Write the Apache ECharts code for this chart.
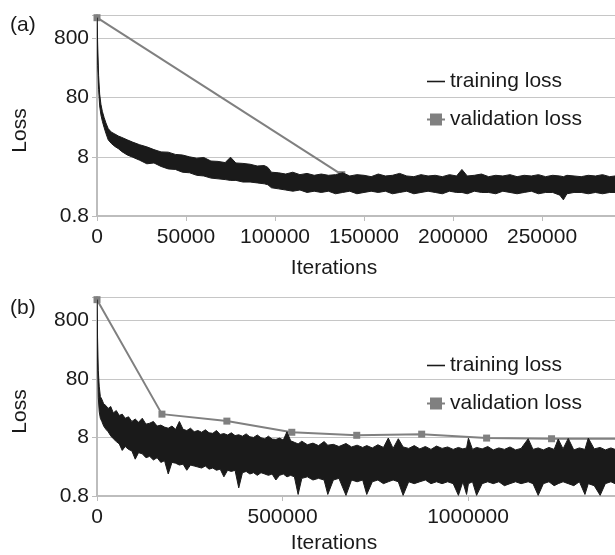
<!DOCTYPE html>
<html>
<head>
<meta charset="utf-8">
<script src="https://cdn.jsdelivr.net/npm/echarts@6/dist/echarts.min.js"></script>
<style>
  html, body { margin: 0; padding: 0; background: #fff; }
  #chart { width: 615px; height: 555px; }
</style>
</head>
<body>
<div id="chart"></div>
<script>
// log axis: 0.8 .. 2000, one tick per decade
const lossFloor = 0.8
const lossCeil = 2000
const yTickLabels = ['0.8', '8', '80', '800']
const panelLabels = ['(a)', '(b)']
const seriesNames = ['training loss', 'validation loss']

// (a) training loss envelope: [iteration, upper, lower]
const trainA = [
  [0, 1800, 1500], [400, 600, 280], [900, 190, 110], [1500, 92, 58], [2200, 62, 41],
  [3000, 47, 32], [4000, 37, 25], [5000, 30, 20], [6300, 24, 15.5], [8000, 21, 13.5],
  [10000, 19.5, 12], [12000, 18, 11], [14000, 17, 9.8], [17000, 15.5, 8.6], [20000, 14.2, 7.9],
  [24000, 12.8, 7.0], [28000, 11.8, 6.1], [32000, 10.6, 6.3], [36000, 9.7, 5.5], [40000, 9.6, 5.0],
  [44000, 8.8, 4.9], [48000, 8.6, 4.4], [52000, 8.0, 4.3], [56000, 7.6, 3.9], [60000, 7.8, 3.8],
  [64000, 6.8, 3.5], [68000, 6.7, 3.4], [72000, 6.4, 3.3], [75000, 7.9, 3.2], [78000, 6.3, 3.2],
  [82000, 6.2, 3.0], [86000, 6.0, 3.0], [90000, 5.6, 2.9], [94000, 5.7, 2.8], [96000, 5.3, 2.7],
  [98000, 4.4, 2.4], [102000, 4.3, 2.3], [106000, 4.1, 2.2], [110000, 4.4, 2.1], [114000, 4.0, 2.2],
  [118000, 4.2, 2.0], [122000, 3.9, 2.1], [126000, 4.1, 2.0], [130000, 3.9, 2.1], [134000, 4.0, 1.9],
  [138000, 4.3, 2.0], [142000, 3.8, 2.1], [146000, 4.0, 1.9], [150000, 3.9, 2.0], [154000, 3.7, 2.1],
  [158000, 4.1, 2.0], [162000, 3.8, 2.1], [166000, 3.9, 1.9], [170000, 4.2, 2.0], [174000, 3.8, 2.1],
  [178000, 3.7, 1.9], [182000, 4.0, 2.0], [186000, 3.8, 2.1], [190000, 3.9, 2.0], [194000, 3.7, 1.9],
  [198000, 4.0, 2.1], [202000, 3.8, 2.0], [205000, 4.9, 2.0], [208000, 3.8, 1.9], [212000, 3.9, 2.1],
  [216000, 4.1, 2.0], [220000, 3.7, 2.0], [224000, 3.9, 1.9], [228000, 3.8, 2.1], [232000, 4.0, 2.0],
  [236000, 3.7, 1.9], [240000, 3.9, 2.0], [244000, 3.8, 2.1], [248000, 4.0, 1.9], [252000, 3.7, 2.0],
  [256000, 3.9, 2.0], [260000, 3.8, 1.8], [262000, 3.7, 1.5], [264000, 3.9, 1.9], [268000, 3.8, 2.0],
  [272000, 3.7, 2.0], [276000, 3.9, 1.9], [280000, 3.8, 2.0], [284000, 4.0, 1.9], [288000, 3.7, 2.0],
  [291000, 3.8, 2.0]
]
const validItersA = [0, 137500]
const validLossA = [1800, 4.0]

// (b) training loss envelope: [iteration, upper, lower]
const trainB = [
  [0, 1800, 1500], [1500, 400, 150], [3500, 110, 38], [6000, 60, 22], [9000, 40, 17],
  [13000, 36, 15], [18000, 30, 12.5], [24000, 28, 11], [30000, 25, 10], [37000, 27, 8.5],
  [44000, 21, 7.6], [52000, 23, 6.8], [60000, 19, 6.2], [68000, 20, 4.8], [76000, 17, 5.6],
  [85000, 18, 5.0], [94000, 15, 4.7], [103000, 16.5, 3.4], [112000, 14.5, 4.4], [122000, 17, 4.2],
  [132000, 13.5, 3.6], [142000, 14, 3.8], [152000, 15, 3.3], [162000, 12.5, 3.6], [172000, 13, 3.0],
  [182000, 12, 3.2], [192000, 11.5, 1.9], [202000, 12.5, 3.0], [212000, 11, 2.9], [222000, 15, 2.7],
  [232000, 11, 2.8], [242000, 10.5, 2.2], [252000, 11.5, 2.7], [262000, 10, 2.6], [272000, 10.5, 2.5],
  [282000, 9.8, 2.4], [292000, 10.8, 2.6], [302000, 9.6, 2.3], [312000, 9.4, 2.4], [322000, 10.5, 2.2],
  [332000, 9.0, 2.3], [342000, 9.3, 1.7], [352000, 8.8, 2.2], [362000, 9.6, 2.1], [372000, 8.6, 2.2],
  [382000, 8.9, 1.1], [392000, 8.4, 2.0], [402000, 9.2, 2.1], [412000, 8.2, 1.9], [422000, 8.0, 2.0],
  [432000, 8.8, 1.8], [442000, 7.9, 2.0], [452000, 7.6, 1.9], [462000, 8.4, 1.8], [472000, 7.5, 1.9],
  [482000, 7.4, 1.5], [492000, 7.8, 1.8], [502000, 7.2, 1.9], [512000, 10, 1.7], [522000, 7.0, 1.8],
  [532000, 6.6, 1.7], [542000, 6.2, 0.85], [552000, 6.9, 1.6], [567000, 6.0, 1.7], [582000, 6.4, 1.5],
  [597000, 5.8, 1.6], [612000, 6.8, 1.5], [622000, 5.9, 0.85], [637000, 6.1, 1.5], [652000, 5.6, 1.6],
  [671000, 6.3, 0.82], [686000, 5.5, 1.5], [701000, 5.9, 1.4], [716000, 5.4, 1.5], [727000, 5.8, 0.85],
  [742000, 5.3, 1.4], [757000, 6.0, 1.5], [772000, 5.4, 1.3], [785000, 7.8, 1.4], [798000, 5.2, 1.5],
  [812000, 7.6, 1.4], [825000, 5.5, 0.82], [840000, 5.2, 1.4], [855000, 5.8, 1.3], [870000, 5.1, 1.4],
  [885000, 5.6, 1.5], [900000, 5.0, 1.3], [915000, 5.7, 1.4], [930000, 5.2, 1.3], [945000, 5.5, 1.4],
  [960000, 5.0, 1.3], [974000, 5.4, 0.82], [986000, 5.1, 1.4], [996000, 5.3, 0.85], [1001000, 7.8, 1.3],
  [1012000, 5.0, 1.4], [1023000, 5.4, 0.82], [1038000, 5.1, 1.3], [1053000, 5.6, 1.4], [1068000, 4.9, 1.3],
  [1083000, 5.3, 1.4], [1098000, 5.0, 1.2], [1113000, 5.5, 1.3], [1128000, 4.9, 1.4], [1143000, 5.2, 1.3],
  [1162000, 7.6, 1.4], [1175000, 5.0, 1.3], [1189000, 5.3, 0.82], [1203000, 4.9, 1.3], [1218000, 5.4, 1.4],
  [1232000, 5.0, 1.2], [1243000, 7.5, 1.3], [1256000, 5.1, 1.4], [1270000, 7.7, 1.3], [1285000, 4.9, 1.2],
  [1300000, 5.3, 1.4], [1315000, 5.0, 0.85], [1324000, 7.8, 1.3], [1340000, 5.1, 1.2], [1356000, 5.4, 0.82],
  [1370000, 4.9, 1.3], [1385000, 5.3, 1.4], [1396000, 5.0, 1.3]
]
const validItersB = [0, 175000, 350000, 525000, 700000, 875000, 1050000, 1225000, 1400000]
const validLossB = [1800, 20.0, 15.2, 9.8, 8.7, 9.1, 7.8, 7.6, 7.6]

const xMaxes = [291000, 1396000]
const xSteps = [50000, 500000]

// decades above 0.8, so the value axis behaves like a log axis
const toAxis = v => Math.log10(v / lossFloor)
const yTop = toAxis(lossCeil)

const font = 'Liberation Sans'
const ink = '#1a1a1a'
const gridTops = [15, 297]
const gridHeights = [201, 202]
const xNameGaps = [42, 37]
const legendTops = [66, 350]

const trainSets = [trainA, trainB]
const validSets = [[validItersA, validLossA], [validItersB, validLossB]]

// whole band as one polygon: upper edge forward, lower edge back
const renderBand = (params, api) => {
  if (params.dataIndexInside !== 0) return
  const n = params.dataInsideLength
  const upper = []
  const lower = []
  for (let k = 0; k < n; k++) {
    const x = api.value(0, k)
    upper.push(api.coord([x, api.value(1, k)]))
    lower.push(api.coord([x, api.value(2, k)]))
  }
  return {
    type: 'polygon',
    shape: { points: upper.concat(lower.reverse()) },
    style: { fill: ink, stroke: ink, lineWidth: 1 }
  }
}

const makeSeries = (i) => {
  const env = trainSets[i]
  const [iters, losses] = validSets[i]
  return [
    {
      name: seriesNames[1],
      type: 'line',
      xAxisIndex: i,
      yAxisIndex: i,
      data: iters.map((it, k) => [it, toAxis(losses[k])]),
      symbol: 'rect',
      symbolSize: 7,
      lineStyle: { color: '#808080', width: 2 },
      itemStyle: { color: '#808080' },
      z: 2
    },
    {
      name: seriesNames[0],
      type: 'custom',
      xAxisIndex: i,
      yAxisIndex: i,
      data: env.map(r => [r[0], toAxis(r[1]), toAxis(r[2])]),
      encode: { x: 0, y: [1, 2] },
      renderItem: renderBand,
      itemStyle: { color: ink },
      clip: true,
      z: 3
    }
  ]
}

const chart = echarts.init(document.getElementById('chart'))

chart.setOption({
  animation: false,
  textStyle: { fontFamily: font, color: ink },
  grid: [0, 1].map(i => ({ left: 97, right: 0, top: gridTops[i], height: gridHeights[i] })),
  xAxis: [0, 1].map(i => ({
    gridIndex: i,
    type: 'value',
    min: 0,
    max: xMaxes[i],
    interval: xSteps[i],
    splitLine: { show: false },
    axisLine: { lineStyle: { color: '#bdbdbd', width: 2 } },
    axisTick: { length: 5, lineStyle: { color: '#bdbdbd' } },
    axisLabel: {
      showMaxLabel: false,
      fontSize: 21,
      color: ink,
      margin: 11,
      fontFamily: font,
      formatter: v => String(v)
    },
    name: 'Iterations',
    nameLocation: 'middle',
    nameGap: xNameGaps[i],
    nameTextStyle: { fontSize: 21, color: ink, fontFamily: font, padding: [0, 44, 0, 0] }
  })),
  yAxis: [0, 1].map(i => ({
    gridIndex: i,
    type: 'value',
    min: 0,
    max: yTop,
    interval: 1,
    splitLine: { lineStyle: { color: '#c6c6c6', width: 1 } },
    axisLine: { show: true, lineStyle: { color: '#bdbdbd', width: 2 } },
    axisTick: { show: true, length: 5, lineStyle: { color: '#bdbdbd' } },
    axisLabel: {
      fontSize: 21,
      color: ink,
      margin: 8,
      fontFamily: font,
      formatter: v => (Math.abs(v - Math.round(v)) < 1e-6 ? yTickLabels[Math.round(v)] : '')
    },
    name: 'Loss',
    nameLocation: 'middle',
    nameGap: 66,
    nameTextStyle: { fontSize: 21, color: ink, fontFamily: font, padding: [0, 30, 0, 0] }
  })),
  legend: [0, 1].map(i => ({
    data: [
      { name: seriesNames[0], icon: 'path://M0,0h16v1.4h-16z', itemStyle: { color: ink } },
      { name: seriesNames[1] }
    ],
    orient: 'vertical',
    left: 421,
    top: legendTops[i],
    itemWidth: 18,
    itemHeight: 15,
    itemGap: 17,
    selectedMode: false,
    textStyle: { fontSize: 21, color: ink, fontFamily: font }
  })),
  graphic: panelLabels.map((t, i) => ({
    type: 'text',
    left: 10,
    top: [15, 298][i],
    style: { text: t, font: '21px "Liberation Sans"', fill: ink }
  })),
  series: [...makeSeries(0), ...makeSeries(1)]
})
</script>
</body>
</html>
